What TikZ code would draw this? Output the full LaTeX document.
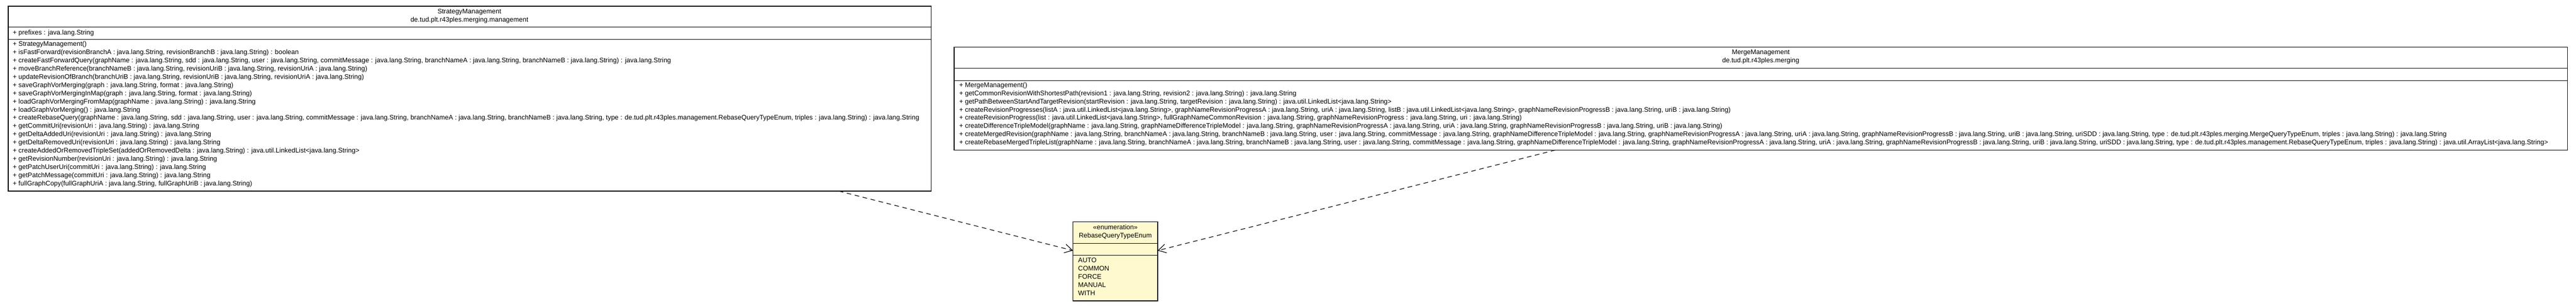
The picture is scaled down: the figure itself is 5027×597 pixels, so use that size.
\documentclass[tikz,border=0pt]{standalone}
\usepackage{fontspec}
\setmainfont{Liberation Sans}
\usetikzlibrary{arrows.meta,calc}
\definecolor{enumfill}{RGB}{255,250,205}
\tikzset{
  classbox/.style={draw=black, line width=1.3pt, fill=white, inner sep=0pt, outer sep=0pt, anchor=north west},
  enumbox/.style={classbox, fill=enumfill},
  sepline/.style={draw=black, line width=1.3pt},
  txt/.style={inner sep=0pt, outer sep=0pt, anchor=west, font=\fontsize{13}{16}\selectfont, text height=9.75pt, text depth=3.25pt},
  ctxt/.style={txt, anchor=center},
  dep/.style={draw=black, line width=1.2pt, dash pattern=on 9pt off 7pt, -{Straight Barb[length=15pt,width=17pt]}},
}
\begin{document}
\begin{tikzpicture}[x=1pt,y=-1pt]
\useasboundingbox (0,0) rectangle (5027,597);
\fill[white] (0,0) rectangle (5027,597);

% ---------- StrategyManagement ----------
\node[classbox, minimum width=1801pt, minimum height=361pt] (sm) at (16,12) {};
\draw[sepline] (sm.west |- 0,53) -- (sm.east |- 0,53);
\draw[sepline] (sm.west |- 0,77) -- (sm.east |- 0,77);
\node[ctxt] (smt) at (916,23) {StrategyManagement};
\node[ctxt] (smp) at (916,39) {de.tud.plt.r43ples.merging.management};
\node[txt] (sma) at (25,65) {+ prefixes : java.lang.String};
\node[txt] (sm1) at (25,87) {+ StrategyManagement()};
\node[txt] (sm2) at (25,103) {+ isFastForward(revisionBranchA : java.lang.String, revisionBranchB : java.lang.String) : boolean};
\node[txt] (sm3) at (25,119) {+ createFastForwardQuery(graphName : java.lang.String, sdd : java.lang.String, user : java.lang.String, commitMessage : java.lang.String, branchNameA : java.lang.String, branchNameB : java.lang.String) : java.lang.String};
\node[txt] (sm4) at (25,135) {+ moveBranchReference(branchNameB : java.lang.String, revisionUriB : java.lang.String, revisionUriA : java.lang.String)};
\node[txt] (sm5) at (25,151) {+ updateRevisionOfBranch(branchUriB : java.lang.String, revisionUriB : java.lang.String, revisionUriA : java.lang.String)};
\node[txt] (sm6) at (25,167) {+ saveGraphVorMerging(graph : java.lang.String, format : java.lang.String)};
\node[txt] (sm7) at (25,183) {+ saveGraphVorMergingInMap(graph : java.lang.String, format : java.lang.String)};
\node[txt] (sm8) at (25,199) {+ loadGraphVorMergingFromMap(graphName : java.lang.String) : java.lang.String};
\node[txt] (sm9) at (25,215) {+ loadGraphVorMerging() : java.lang.String};
\node[txt] (sm10) at (25,231) {+ createRebaseQuery(graphName : java.lang.String, sdd : java.lang.String, user : java.lang.String, commitMessage : java.lang.String, branchNameA : java.lang.String, branchNameB : java.lang.String, type : de.tud.plt.r43ples.management.RebaseQueryTypeEnum, triples : java.lang.String) : java.lang.String};
\node[txt] (sm11) at (25,247) {+ getCommitUri(revisionUri : java.lang.String) : java.lang.String};
\node[txt] (sm12) at (25,263) {+ getDeltaAddedUri(revisionUri : java.lang.String) : java.lang.String};
\node[txt] (sm13) at (25,279) {+ getDeltaRemovedUri(revisionUri : java.lang.String) : java.lang.String};
\node[txt] (sm14) at (25,295) {+ createAddedOrRemovedTripleSet(addedOrRemovedDelta : java.lang.String) : java.util.LinkedList<java.lang.String>};
\node[txt] (sm15) at (25,311) {+ getRevisionNumber(revisionUri : java.lang.String) : java.lang.String};
\node[txt] (sm16) at (25,327) {+ getPatchUserUri(commitUri : java.lang.String) : java.lang.String};
\node[txt] (sm17) at (25,343) {+ getPatchMessage(commitUri : java.lang.String) : java.lang.String};
\node[txt] (sm18) at (25,359) {+ fullGraphCopy(fullGraphUriA : java.lang.String, fullGraphUriB : java.lang.String)};

% ---------- MergeManagement ----------
\node[classbox, minimum width=3148pt, minimum height=201pt] (mm) at (1862,92) {};
\draw[sepline] (mm.west |- 0,133) -- (mm.east |- 0,133);
\draw[sepline] (mm.west |- 0,157) -- (mm.east |- 0,157);
\node[ctxt] (mmt) at (3436,103) {MergeManagement};
\node[ctxt] (mmp) at (3436,119) {de.tud.plt.r43ples.merging};
\node[txt] (mm1) at (1872,167) {+ MergeManagement()};
\node[txt] (mm2) at (1872,183) {+ getCommonRevisionWithShortestPath(revision1 : java.lang.String, revision2 : java.lang.String) : java.lang.String};
\node[txt] (mm3) at (1872,199) {+ getPathBetweenStartAndTargetRevision(startRevision : java.lang.String, targetRevision : java.lang.String) : java.util.LinkedList<java.lang.String>};
\node[txt] (mm4) at (1872,215) {+ createRevisionProgresses(listA : java.util.LinkedList<java.lang.String>, graphNameRevisionProgressA : java.lang.String, uriA : java.lang.String, listB : java.util.LinkedList<java.lang.String>, graphNameRevisionProgressB : java.lang.String, uriB : java.lang.String)};
\node[txt] (mm5) at (1872,231) {+ createRevisionProgress(list : java.util.LinkedList<java.lang.String>, fullGraphNameCommonRevision : java.lang.String, graphNameRevisionProgress : java.lang.String, uri : java.lang.String)};
\node[txt] (mm6) at (1872,247) {+ createDifferenceTripleModel(graphName : java.lang.String, graphNameDifferenceTripleModel : java.lang.String, graphNameRevisionProgressA : java.lang.String, uriA : java.lang.String, graphNameRevisionProgressB : java.lang.String, uriB : java.lang.String)};
\node[txt] (mm7) at (1872,263) {+ createMergedRevision(graphName : java.lang.String, branchNameA : java.lang.String, branchNameB : java.lang.String, user : java.lang.String, commitMessage : java.lang.String, graphNameDifferenceTripleModel : java.lang.String, graphNameRevisionProgressA : java.lang.String, uriA : java.lang.String, graphNameRevisionProgressB : java.lang.String, uriB : java.lang.String, uriSDD : java.lang.String, type : de.tud.plt.r43ples.merging.MergeQueryTypeEnum, triples : java.lang.String) : java.lang.String};
\node[txt] (mm8) at (1872,279) {+ createRebaseMergedTripleList(graphName : java.lang.String, branchNameA : java.lang.String, branchNameB : java.lang.String, user : java.lang.String, commitMessage : java.lang.String, graphNameDifferenceTripleModel : java.lang.String, graphNameRevisionProgressA : java.lang.String, uriA : java.lang.String, graphNameRevisionProgressB : java.lang.String, uriB : java.lang.String, uriSDD : java.lang.String, type : de.tud.plt.r43ples.management.RebaseQueryTypeEnum, triples : java.lang.String) : java.util.ArrayList<java.lang.String>};

% ---------- RebaseQueryTypeEnum ----------
\node[enumbox, minimum width=165pt, minimum height=154pt] (en) at (2094,433) {};
\draw[sepline] (en.west |- 0,475) -- (en.east |- 0,475);
\draw[sepline] (en.west |- 0,498) -- (en.east |- 0,498);
\node[ctxt] (ens) at (2176.5,445) {«enumeration»};
\node[ctxt] (enn) at (2176.5,461) {RebaseQueryTypeEnum};
\node[txt] (en1) at (2104,509) {AUTO};
\node[txt] (en2) at (2104,525) {COMMON};
\node[txt] (en3) at (2104,541) {FORCE};
\node[txt] (en4) at (2104,557) {MANUAL};
\node[txt] (en5) at (2104,573) {WITH};

% ---------- dependencies ----------
\coordinate (smout) at ($(sm.south west)!0.9!(sm.south east)$);
\coordinate (mmout) at ($(mm.south west)!0.3726!(mm.south east)$);
\coordinate (enin1) at ($(en.north west)!0.364!(en.south west)$);
\coordinate (enin2) at ($(en.north east)!0.364!(en.south east)$);
\draw[dep] (smout) -- (enin1);
\draw[dep] (mmout) -- (enin2);
\end{tikzpicture}
\end{document}
